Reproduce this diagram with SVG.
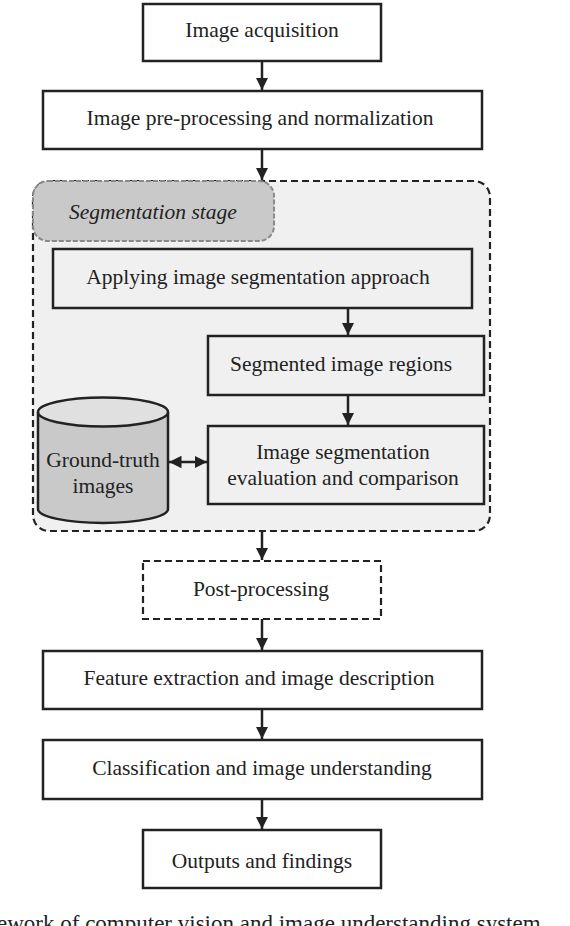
<svg xmlns="http://www.w3.org/2000/svg" width="570" height="926" viewBox="0 0 570 926">
<defs>
<style>
text{font-family:"Liberation Serif","DejaVu Serif",serif;font-size:21.5px;fill:#222;text-anchor:middle}
.box{fill:#fff;stroke:#222;stroke-width:2.5}
.ibox{fill:#f0f0f0;stroke:#222;stroke-width:2.5}
.dash{fill:#fff;stroke:#222;stroke-width:2.2;stroke-dasharray:7,4}
.con{stroke:#222;stroke-width:2.5;fill:none}
</style>
<marker id="ah" viewBox="0 0 10 10" refX="10" refY="5" markerWidth="5" markerHeight="5" markerUnits="strokeWidth" orient="auto-start-reverse">
<path d="M0,0 L10,5 L0,10 Z" fill="#222"/>
</marker>
</defs>
<g id="segmentation-stage">
<rect x="33" y="181" width="457" height="350" rx="16" fill="#f0f0f0" stroke="#222" stroke-width="2.2" stroke-dasharray="7,4"/>
<rect x="33" y="181" width="241" height="60" rx="15" fill="#c9c9c9" stroke="#8a8a8a" stroke-width="2" stroke-dasharray="5,2"/>
<text x="69" y="219" style="font-style:italic;text-anchor:start">Segmentation stage</text>
</g>
<g id="n1"><rect class="box" x="143" y="4" width="238" height="57"/><text x="262" y="37">Image acquisition</text></g>
<g id="n2"><rect class="box" x="43" y="91" width="439" height="58"/><text x="260" y="125">Image pre-processing and normalization</text></g>
<g id="n3"><rect class="ibox" x="53" y="249" width="419" height="59"/><text x="258" y="284">Applying image segmentation approach</text></g>
<g id="n4"><rect class="ibox" x="208" y="336" width="276" height="59"/><text x="341" y="371">Segmented image regions</text></g>
<g id="n5"><rect class="ibox" x="208" y="426" width="276" height="78"/><text x="343" y="459">Image segmentation</text><text x="343" y="485">evaluation and comparison</text></g>
<g id="n6">
<path d="M38,412 L38,509 A65,14 0 0 0 168,509 L168,412" fill="#c9c9c9" stroke="#222" stroke-width="2.5"/>
<ellipse cx="103" cy="412" rx="65" ry="14.5" fill="#e0e0e0" stroke="#222" stroke-width="2.5"/>
<text x="103" y="467">Ground-truth</text><text x="103" y="493">images</text>
</g>
<g id="n7"><rect class="dash" x="143" y="561" width="238" height="58"/><text x="261" y="596">Post-processing</text></g>
<g id="n8"><rect class="box" x="43" y="651" width="439" height="58"/><text x="259" y="685">Feature extraction and image description</text></g>
<g id="n9"><rect class="box" x="43" y="740" width="439" height="59"/><text x="262" y="775">Classification and image understanding</text></g>
<g id="n10"><rect class="box" x="143" y="830" width="238" height="58"/><text x="262" y="868">Outputs and findings</text></g>
<g id="connectors">
<line class="con" x1="262" y1="61" x2="262" y2="90" marker-end="url(#ah)"/>
<line class="con" x1="262" y1="149" x2="262" y2="180" marker-end="url(#ah)"/>
<line class="con" x1="348" y1="308" x2="348" y2="335" marker-end="url(#ah)"/>
<line class="con" x1="348" y1="395" x2="348" y2="425" marker-end="url(#ah)"/>
<line class="con" x1="169" y1="462" x2="207" y2="462" marker-start="url(#ah)" marker-end="url(#ah)"/>
<line class="con" x1="262" y1="531" x2="262" y2="560" marker-end="url(#ah)"/>
<line class="con" x1="262" y1="619" x2="262" y2="650" marker-end="url(#ah)"/>
<line class="con" x1="262" y1="709" x2="262" y2="739" marker-end="url(#ah)"/>
<line class="con" x1="262" y1="799" x2="262" y2="829" marker-end="url(#ah)"/>
</g>
<text x="-3" y="931" style="text-anchor:start;font-size:23px">ework of computer vision and image understanding system</text>
</svg>
